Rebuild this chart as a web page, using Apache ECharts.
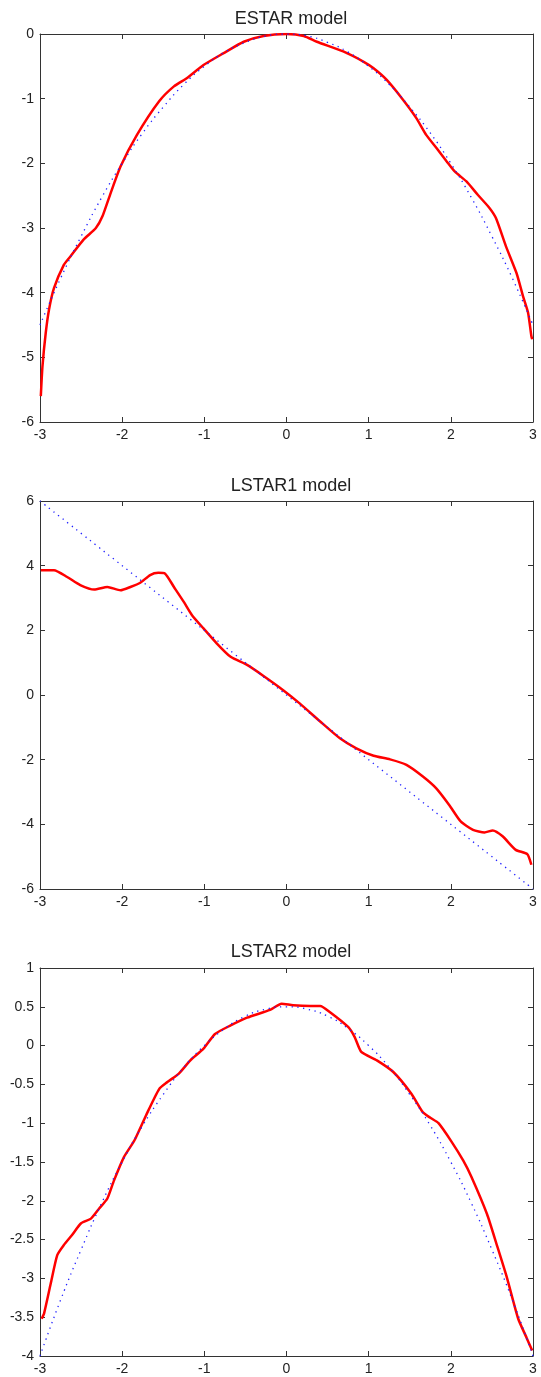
<!DOCTYPE html>
<html>
<head>
<meta charset="utf-8">
<script src="https://cdn.jsdelivr.net/npm/echarts@6/dist/echarts.min.js"></script>
<style>
html, body { margin: 0; padding: 0; background: #fff; }
#chart { width: 541px; height: 1377px; }
</style>
</head>
<body>
<div id="chart"></div>
<script>
// panel titles
var titles = ['ESTAR model', 'LSTAR1 model', 'LSTAR2 model'];

// x axis ticks (same for all panels)
var xTicks = [-3, -2, -1, 0, 1, 2, 3];

// ESTAR: estimated curve (red) and fitted parabola (blue dots)
var estarX = [-2.99, -2.97, -2.93, -2.89, -2.83, -2.71, -2.63, -2.47, -2.32, -2.24, -2.14, -2.02, -1.82, -1.55, -1.37, -1.21, -1.01, -0.77, -0.52, -0.28, 0, 0.21, 0.37, 0.69, 0.94, 1.06, 1.22, 1.42, 1.58, 1.7, 1.83, 1.95, 2.05, 2.19, 2.33, 2.47, 2.55, 2.67, 2.8, 2.88, 2.94, 2.98, 2.99];
var estarY = [-5.6, -5.14, -4.62, -4.26, -3.93, -3.57, -3.44, -3.18, -3.0, -2.82, -2.46, -2.05, -1.56, -1.04, -0.81, -0.68, -0.48, -0.3, -0.12, -0.03, 0, -0.03, -0.12, -0.27, -0.43, -0.53, -0.71, -1.02, -1.3, -1.56, -1.77, -1.97, -2.13, -2.28, -2.49, -2.69, -2.85, -3.28, -3.7, -4.06, -4.31, -4.67, -4.72];
var fitX = [-3, -2.75, -2.5, -2.25, -2, -1.75, -1.5, -1.25, -1, -0.75, -0.5, -0.25, 0, 0.25, 0.5, 0.75, 1, 1.25, 1.5, 1.75, 2, 2.25, 2.5, 2.75, 3];
var estarFitY = [-4.5, -3.78, -3.13, -2.53, -2, -1.53, -1.13, -0.78, -0.5, -0.28, -0.13, -0.03, 0, -0.03, -0.13, -0.28, -0.5, -0.78, -1.13, -1.53, -2, -2.53, -3.13, -3.78, -4.5];

// LSTAR1
var lstar1X = [-2.99, -2.83, -2.67, -2.51, -2.34, -2.18, -2.02, -1.9, -1.78, -1.66, -1.56, -1.48, -1.37, -1.25, -1.15, -1.01, -0.85, -0.68, -0.48, -0.28, -0.04, 0.16, 0.41, 0.65, 0.85, 1.06, 1.26, 1.46, 1.66, 1.82, 1.98, 2.12, 2.27, 2.41, 2.51, 2.63, 2.79, 2.93, 2.98];
var lstar1Y = [3.86, 3.86, 3.65, 3.4, 3.26, 3.34, 3.24, 3.34, 3.47, 3.71, 3.78, 3.76, 3.34, 2.88, 2.47, 2.06, 1.6, 1.18, 0.93, 0.59, 0.15, -0.26, -0.82, -1.34, -1.65, -1.88, -1.99, -2.16, -2.52, -2.88, -3.4, -3.91, -4.17, -4.25, -4.19, -4.37, -4.79, -4.92, -5.25];
var lstar1FitX = [-3, 0, 3];
var lstar1FitY = [6, 0, -6];

// LSTAR2
var lstar2X = [-2.98, -2.95, -2.87, -2.79, -2.71, -2.61, -2.5, -2.38, -2.28, -2.18, -2.1, -1.98, -1.85, -1.71, -1.55, -1.45, -1.31, -1.17, -1.01, -0.87, -0.68, -0.48, -0.2, -0.06, 0.08, 0.29, 0.41, 0.53, 0.75, 0.83, 0.91, 1.1, 1.3, 1.52, 1.66, 1.75, 1.85, 2.01, 2.15, 2.25, 2.44, 2.56, 2.68, 2.82, 2.92, 2.99];
var lstar2Y = [-3.52, -3.45, -3.07, -2.7, -2.57, -2.44, -2.29, -2.23, -2.1, -1.97, -1.74, -1.44, -1.22, -0.9, -0.56, -0.47, -0.36, -0.19, -0.04, 0.15, 0.26, 0.36, 0.46, 0.54, 0.52, 0.51, 0.51, 0.43, 0.24, 0.11, -0.08, -0.19, -0.34, -0.62, -0.86, -0.93, -1.0, -1.24, -1.48, -1.69, -2.17, -2.57, -2.98, -3.52, -3.76, -3.93];
var lstar2FitY = [-4, -3.28, -2.63, -2.03, -1.5, -1.03, -0.63, -0.28, 0, 0.22, 0.38, 0.47, 0.5, 0.47, 0.38, 0.22, 0, -0.28, -0.63, -1.03, -1.5, -2.03, -2.63, -3.28, -4];

// y axis ranges per panel
var yMin = [-6, -6, -4];
var yMax = [0, 6, 1];
var yStep = [1, 2, 0.5];

function zip(xs, ys) {
    return xs.map(function (x, i) { return [x, ys[i]]; });
}

var myChart = echarts.init(document.getElementById('chart'));

var gridTops = [34, 501, 968];
var titleTops = [5, 472, 938];
var font = 'Liberation Sans, Arial, sans-serif';
var axisColor = '#333';

var grids = [], xAxes = [], yAxes = [], titleList = [];
for (var i = 0; i < 3; i++) {
    grids.push({ left: 40, top: gridTops[i], width: 493, height: 388, show: false });
    titleList.push({
        text: titles[i],
        left: 286,
        top: titleTops[i],
        textAlign: 'center',
        textStyle: { fontFamily: font, fontSize: 18, fontWeight: 'normal', color: '#222' }
    });
    // bottom + top x axes (box with inward ticks like matlab)
    [['bottom', true], ['top', false]].forEach(function (p) {
        xAxes.push({
            type: 'value', gridIndex: i, position: p[0],
            min: -3, max: 3, interval: 1,
            splitLine: { show: false },
            axisLine: { onZero: false, lineStyle: { color: axisColor, width: 1 } },
            axisTick: { inside: true, length: 5, lineStyle: { color: axisColor } },
            axisLabel: {
                show: p[1], margin: 6, color: '#222', fontSize: 14, fontFamily: font,
                formatter: function (v) { return xTicks.indexOf(v) >= 0 ? String(v) : ''; }
            }
        });
    });
    [['left', true], ['right', false]].forEach(function (p) {
        yAxes.push({
            type: 'value', gridIndex: i, position: p[0],
            min: yMin[i], max: yMax[i], interval: yStep[i],
            splitLine: { show: false },
            axisLine: { onZero: false, lineStyle: { color: axisColor, width: 1 } },
            axisTick: { inside: true, length: 5, lineStyle: { color: axisColor } },
            axisLabel: { show: p[1], margin: 6, color: '#222', fontSize: 14, fontFamily: font }
        });
    });
}

function redLine(idx, data) {
    return {
        type: 'line', xAxisIndex: idx * 2, yAxisIndex: idx * 2,
        data: data, showSymbol: false, smooth: 0.2,
        lineStyle: { color: '#ff0000', width: 2.5 }
    };
}
function blueDots(idx, data) {
    return {
        type: 'line', xAxisIndex: idx * 2, yAxisIndex: idx * 2,
        data: data, showSymbol: false, smooth: true,
        lineStyle: { color: '#2020ff', width: 1.3, type: [1.3, 4.5] }
    };
}

option = {
    animation: false,
    backgroundColor: '#fff',
    title: titleList,
    grid: grids,
    xAxis: xAxes,
    yAxis: yAxes,
    series: [
        redLine(0, zip(estarX, estarY)),
        blueDots(0, zip(fitX, estarFitY)),
        redLine(1, zip(lstar1X, lstar1Y)),
        blueDots(1, zip(lstar1FitX, lstar1FitY)),
        redLine(2, zip(lstar2X, lstar2Y)),
        blueDots(2, zip(fitX, lstar2FitY))
    ]
};
myChart.setOption(option);
</script>
</body>
</html>
